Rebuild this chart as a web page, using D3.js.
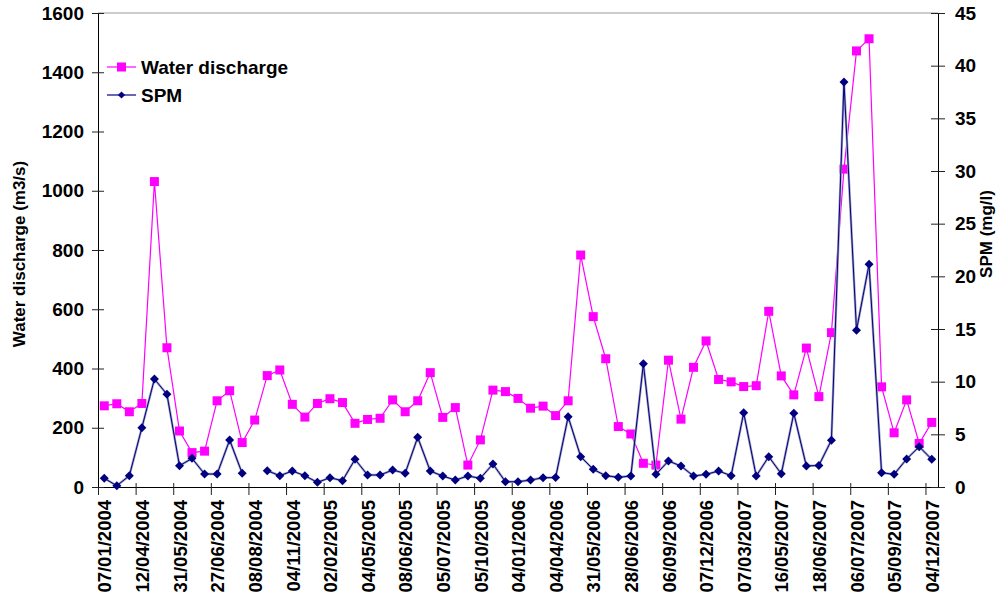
<!DOCTYPE html>
<html>
<head>
<meta charset="utf-8">
<script src="https://cdn.jsdelivr.net/npm/d3@7"></script>
<style>
  body { margin: 0; background: #fff; }
  svg { font-family: "Liberation Sans", Arial, sans-serif; }
</style>
</head>
<body>
<svg id="chart" width="1003" height="608"></svg>
<script>
// one label every 3 samples
const dateLabels = ["07/01/2004", "12/04/2004", "31/05/2004", "27/06/2004", "08/08/2004",
    "04/11/2004", "02/02/2005", "04/05/2005", "08/06/2005", "05/07/2005", "05/10/2005",
    "04/01/2006", "04/04/2006", "31/05/2006", "28/06/2006", "06/09/2006", "07/12/2006",
    "07/03/2007", "16/05/2007", "18/06/2007", "06/07/2007", "05/09/2007", "04/12/2007"];

const discharge = [274, 281, 254, 282, 1031, 470, 189, 116, 121, 291, 325, 150, 226, 376, 395,
    279, 236, 282, 298, 285, 215, 228, 232, 294, 254, 291, 386, 235, 268, 74, 159, 327, 322,
    299, 266, 273, 241, 291, 783, 575, 433, 204, 179, 80, 74, 428, 229, 404, 493, 363, 355,
    339, 342, 593, 375, 311, 469, 305, 521, 1073, 1472, 1513, 338, 183, 294, 147, 218];

const spm = [0.83, 0.12, 1.07, 5.63, 10.25, 8.8, 2.02, 2.72, 1.23, 1.23, 4.46, 1.3, null, 1.55,
    1.07, 1.52, 1.07, 0.44, 0.88, 0.6, 2.63, 1.14, 1.14, 1.61, 1.3, 4.72, 1.52, 1.04, 0.66, 1.04,
    0.83, 2.18, 0.5, 0.5, 0.66, 0.88, 0.9, 6.67, 2.88, 1.68, 1.07, 0.92, 1.04, 11.7, 1.2, 2.47,
    1.99, 1.04, 1.2, 1.52, 1.07, 7.05, 1.04, 2.88, 1.25, 7.0, 1.99, 2.05, 4.45, 38.46, 14.88,
    21.14, 1.36, 1.2, 2.66, 3.83, 2.63];

const leftTicks = d3.range(0, 1601, 200);
const rightTicks = d3.range(0, 46, 5);

const svg = d3.select("#chart");

const area = { left: 98, right: 938, top: 13, bottom: 487 };
const n = discharge.length;

const scX = d3.scaleLinear().domain([0, n]).range([area.left, area.right]);
const scQ = d3.scaleLinear().domain([0, 1600]).range([area.bottom, area.top]);
const scS = d3.scaleLinear().domain([0, 45]).range([area.bottom, area.top]);

// plot area top border
svg.append("line")
    .attr("x1", area.left).attr("x2", area.right)
    .attr("y1", area.top).attr("y2", area.top)
    .attr("stroke", "#999").attr("stroke-width", 1);

// x axis: tick marks between groups of 3
const gxTicks = svg.append("g")
    .attr("transform", `translate(0, ${area.bottom})`)
    .call(d3.axisBottom(scX).tickValues(d3.range(0, n, 3)).tickFormat("").tickSizeOuter(0));
gxTicks.select(".domain").attr("stroke", "#000");
gxTicks.selectAll(".tick line").attr("y1", -4).attr("y2", 8).attr("stroke", "#222");

// x axis: labels
const gxLab = svg.append("g")
    .attr("transform", `translate(0, ${area.bottom})`)
    .call(d3.axisBottom(scX).tickValues(d3.range(0, n, 3).map(v => v + 0.5))
        .tickFormat((d, i) => dateLabels[i]).tickSize(0));
gxLab.select(".domain").remove();
gxLab.selectAll("text")
    .attr("transform", "rotate(-90)")
    .attr("x", -13).attr("y", 0).attr("dy", "0.36em")
    .style("text-anchor", "end")
    .style("font-size", "18.5px").style("font-weight", "bold").attr("fill", "#000");

// left axis
const gl = svg.append("g")
    .attr("transform", `translate(${area.left}, 0)`)
    .call(d3.axisLeft(scQ).tickValues(leftTicks).tickFormat(d3.format("d"))
        .tickSize(6).tickPadding(8).tickSizeOuter(0));
gl.select(".domain").attr("stroke", "#000");
gl.selectAll(".tick line").attr("x1", 6).attr("stroke", "#222");
gl.selectAll("text").style("font-size", "19px").style("font-weight", "bold").attr("fill", "#000");

// right axis
const gr = svg.append("g")
    .attr("transform", `translate(${area.right}, 0)`)
    .call(d3.axisRight(scS).tickValues(rightTicks).tickSize(7).tickPadding(10).tickSizeOuter(0));
gr.select(".domain").attr("stroke", "#000");
gr.selectAll(".tick line").attr("x1", -7).attr("stroke", "#222");
gr.selectAll("text").style("font-size", "19px").style("font-weight", "bold").attr("fill", "#000");

// axis titles
svg.append("text")
    .attr("transform", `translate(25, 254) rotate(-90)`)
    .attr("text-anchor", "middle")
    .style("font-size", "17px").style("font-weight", "bold")
    .text("Water discharge (m3/s)");

svg.append("text")
    .attr("transform", `translate(992, 234) rotate(-90)`)
    .attr("text-anchor", "middle")
    .style("font-size", "17px").style("font-weight", "bold")
    .text("SPM (mg/l)");

// water discharge series
const lineQ = d3.line()
    .x((d, i) => scX(i + 0.5))
    .y(d => scQ(d));

svg.append("path")
    .datum(discharge)
    .attr("fill", "none")
    .attr("stroke", "#ff00ff")
    .attr("stroke-width", 1.2)
    .attr("d", lineQ);

svg.selectAll("rect.q")
    .data(discharge)
    .enter()
    .append("rect")
    .attr("class", "q")
    .attr("x", (d, i) => scX(i + 0.5) - 4.5)
    .attr("y", d => scQ(d) - 4.5)
    .attr("width", 9)
    .attr("height", 9)
    .attr("fill", "#ff00ff");

// SPM series
const lineS = d3.line()
    .defined(d => d !== null)
    .x((d, i) => scX(i + 0.5))
    .y(d => scS(d));

svg.append("path")
    .datum(spm)
    .attr("fill", "none")
    .attr("stroke", "#a0a0c0")
    .attr("stroke-width", 2.4)
    .attr("d", lineS);

svg.append("path")
    .datum(spm)
    .attr("fill", "none")
    .attr("stroke", "#000080")
    .attr("stroke-width", 1)
    .attr("d", lineS);

const diamond = "M0,-4.5L4.5,0L0,4.5L-4.5,0Z";

svg.selectAll("path.s")
    .data(spm.map((v, i) => ({ v, i })).filter(d => d.v !== null))
    .enter()
    .append("path")
    .attr("class", "s")
    .attr("d", diamond)
    .attr("transform", d => `translate(${scX(d.i + 0.5)}, ${scS(d.v)})`)
    .attr("fill", "#000080");

// legend
const legend = svg.append("g");

legend.append("line")
    .attr("x1", 107).attr("x2", 136).attr("y1", 67).attr("y2", 67)
    .attr("stroke", "#ff00ff").attr("stroke-width", 1.2);
legend.append("rect")
    .attr("x", 117).attr("y", 62.5).attr("width", 9).attr("height", 9)
    .attr("fill", "#ff00ff");
legend.append("text")
    .attr("x", 141).attr("y", 67).attr("dy", "0.35em")
    .style("font-size", "19px").style("font-weight", "bold")
    .text("Water discharge");

legend.append("line")
    .attr("x1", 107).attr("x2", 136).attr("y1", 95).attr("y2", 95)
    .attr("stroke", "#000080").attr("stroke-width", 1.2);
legend.append("path")
    .attr("d", diamond)
    .attr("transform", "translate(121.5, 95) scale(0.8)")
    .attr("fill", "#000080");
legend.append("text")
    .attr("x", 141).attr("y", 95).attr("dy", "0.35em")
    .style("font-size", "19px").style("font-weight", "bold")
    .text("SPM");
</script>
</body>
</html>
